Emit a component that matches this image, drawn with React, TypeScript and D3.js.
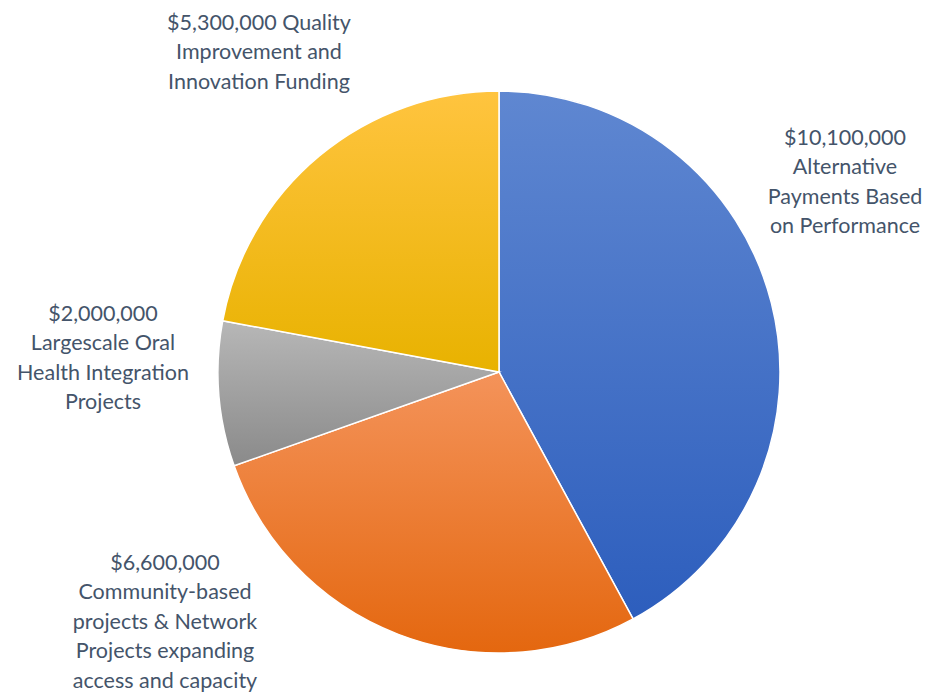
import React from "react";
import * as d3 from "d3";

const categories = [
  ["$10,100,000", "Alternative", "Payments Based", "on Performance"],
  ["$6,600,000", "Community-based", "projects & Network", "Projects expanding", "access and capacity"],
  ["$2,000,000", "Largescale Oral", "Health Integration", "Projects"],
  ["$5,300,000 Quality", "Improvement and", "Innovation Funding"],
];
const values = [10100000, 6600000, 2000000, 5300000];
const colorsTop = ["#5f87d1", "#f4935a", "#b7b7b7", "#ffc43f"];
const colorsBottom = ["#2d5ebd", "#e4670f", "#8a8a8a", "#e8b200"];
// label anchor (center x, first-line center y)
const labelPos: [number, number][] = [
  [845, 137],
  [165, 562],
  [103, 313],
  [259, 22],
];

export default function App() {
  const W = 927, H = 692;
  const cx = 499, cy = 372, r = 281;
  const pie = d3.pie<number>().sort(null).value((d) => d);
  const arcs = pie(values);
  const arc = d3.arc<d3.PieArcDatum<number>>().innerRadius(0).outerRadius(r);
  return (
    <svg width={W} height={H} style={{ position: "absolute", left: 0, top: 0 }}>
      <defs>
        {arcs.map((a, i) => (
          <linearGradient key={i} id={`g${i}`} x1="0" y1="0" x2="0" y2="1">
            <stop offset="0" stopColor={colorsTop[i]} />
            <stop offset="1" stopColor={colorsBottom[i]} />
          </linearGradient>
        ))}
      </defs>
      <g transform={`translate(${cx},${cy})`}>
        {arcs.map((a, i) => (
          <path key={i} d={arc(a) || ""} fill={`url(#g${i})`} stroke="#fff" strokeWidth={1.5} />
        ))}
      </g>
      {categories.map((lines, i) => (
        <text
          key={i}
          textAnchor="middle"
          fill="#44546a"
          fontFamily="Lato, 'Open Sans', sans-serif"
          fontSize={21.5}
        >
          {lines.map((l, j) => (
            <tspan key={j} x={labelPos[i][0]} y={labelPos[i][1] + j * 29.5} dy="0.35em">
              {l}
            </tspan>
          ))}
        </text>
      ))}
    </svg>
  );
}
